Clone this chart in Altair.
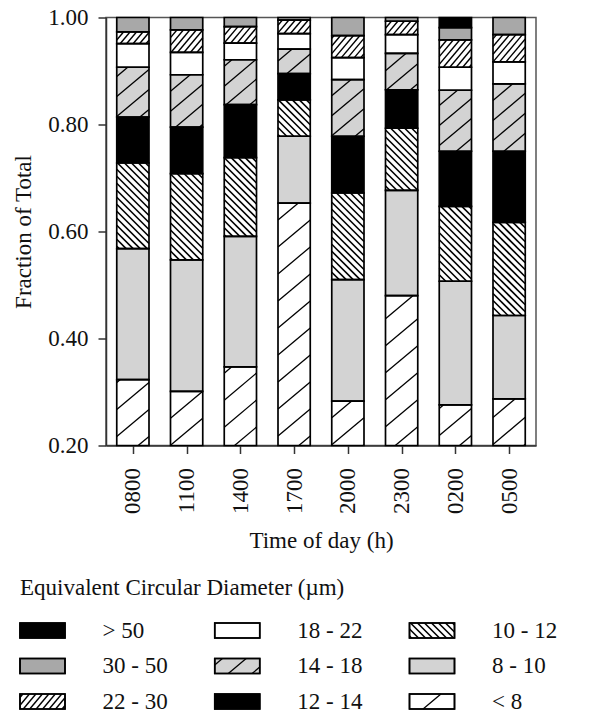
import altair as alt
import pandas as pd
import numpy as np

# ---------------- data ----------------
times = ["0800", "1100", "1400", "1700", "2000", "2300", "0200", "0500"]
classes = ["< 8", "8 - 10", "10 - 12", "12 - 14", "14 - 18", "18 - 22", "22 - 30", "30 - 50", "> 50"]

# fraction of total for each size class (bottom of stack to top), one value per time
f_lt8   = [0.323, 0.301, 0.347, 0.653, 0.283, 0.480, 0.276, 0.287]
f_8_10  = [0.245, 0.246, 0.244, 0.125, 0.227, 0.197, 0.231, 0.156]
f_10_12 = [0.160, 0.161, 0.147, 0.068, 0.162, 0.116, 0.140, 0.174]
f_12_14 = [0.086, 0.087, 0.099, 0.049, 0.106, 0.072, 0.103, 0.133]
f_14_18 = [0.093, 0.098, 0.084, 0.046, 0.106, 0.068, 0.114, 0.126]
f_18_22 = [0.044, 0.042, 0.031, 0.029, 0.041, 0.035, 0.043, 0.041]
f_22_30 = [0.022, 0.042, 0.031, 0.025, 0.041, 0.025, 0.051, 0.051]
f_30_50 = [0.027, 0.023, 0.017, 0.005, 0.034, 0.007, 0.023, 0.032]
f_gt50  = [0.000, 0.000, 0.000, 0.000, 0.000, 0.000, 0.019, 0.000]
series = [f_lt8, f_8_10, f_10_12, f_12_14, f_14_18, f_18_22, f_22_30, f_30_50, f_gt50]

# legend arrangement (column-major, as in the figure)
legend_order = ["> 50", "30 - 50", "22 - 30", "18 - 22", "14 - 18", "12 - 14", "10 - 12", "8 - 10", "< 8"]
legend_title = "Equivalent Circular Diameter (\u00b5m)"

# ---------------- styles ----------------
FONT = "Liberation Serif"
fill_range = ["white", "#d3d3d3", "white", "black", "#d3d3d3", "white", "white", "#a8a8a8", "black"]
# hatch: slope (pixel space, y up), vertical spacing px, stroke width
hatch = {"< 8": (0.84, 27.0, 1.3), "14 - 18": (0.84, 20.0, 1.3),
         "22 - 30": (1.19, 7.7, 1.4), "10 - 12": (-1.0, 7.0, 1.6)}

W, H = 430, 428
YMIN, YMAX = 0.2, 1.0
NB = len(times)
HALF = 0.30
PX = W / NB
PY = H / (YMAX - YMIN)


def hatch_lines(xl, xr, yb, yt, s, sp):
    out = []
    if s > 0:
        cmin, cmax = yb - s * xr, yt - s * xl
    else:
        cmin, cmax = yb - s * xl, yt - s * xr
    k0 = int(np.floor(cmin / sp))
    k1 = int(np.ceil(cmax / sp))
    for k in range(k0, k1 + 1):
        c = k * sp
        if s > 0:
            a = max(xl, (yb - c) / s)
            b = min(xr, (yt - c) / s)
        else:
            a = max(xl, (yt - c) / s)
            b = min(xr, (yb - c) / s)
        if b - a > 0.4:
            out.append((a, s * a + c, b, s * b + c))
    return out


# ---------------- main bars ----------------
rows, hrows = [], []
for i, t in enumerate(times):
    cum = 0.0
    for cls, ser in zip(classes, series):
        v = ser[i]
        y0, y1 = cum, cum + v
        cum = y1
        if v <= 0:
            continue
        yb = max(y0, YMIN)
        if y1 <= yb:
            continue
        xc = i + 0.5
        rows.append({"time": t, "cls": cls, "x": xc - HALF, "x2": xc + HALF, "y": yb, "y2": y1})
        if cls in hatch:
            s, sp, sw = hatch[cls]
            for (a, ya, b, yb2) in hatch_lines((xc - HALF) * PX, (xc + HALF) * PX,
                                                (yb - YMIN) * PY, (y1 - YMIN) * PY, s, sp):
                hrows.append({"x": a / PX, "y": YMIN + ya / PY, "x2": b / PX, "y2": YMIN + yb2 / PY, "sw": sw})

bars_df = pd.DataFrame(rows)
hatch_df = pd.DataFrame(hrows)

xscale = alt.Scale(domain=[0, NB], nice=False, zero=False)
yscale = alt.Scale(domain=[YMIN, YMAX], nice=False, zero=False)

label_expr = "[" + ",".join("'" + t + "'" for t in times) + "][floor(datum.value)]"

x_axis = alt.Axis(values=[i + 0.5 for i in range(NB)], labelExpr=label_expr, title="Time of day (h)",
                  labelAngle=270, tickSize=8, labelPadding=14, titlePadding=16, labelOverlap=False,
                  labelFlush=False)
y_axis = alt.Axis(values=[0.2, 0.4, 0.6, 0.8, 1.0], format=".2f", title="Fraction of Total",
                  tickSize=8, labelPadding=10, titlePadding=12, labelOverlap=False)

fill_enc = alt.Fill("cls:N", scale=alt.Scale(domain=classes, range=fill_range), legend=None)

bars = alt.Chart(bars_df).mark_rect(strokeWidth=0).encode(
    x=alt.X("x:Q", scale=xscale, axis=x_axis),
    x2="x2:Q",
    y=alt.Y("y:Q", scale=yscale, axis=y_axis),
    y2="y2:Q",
    fill=fill_enc,
)

hatches = alt.Chart(hatch_df).mark_rule(color="black", strokeCap="butt").encode(
    x=alt.X("x:Q", scale=xscale),
    x2="x2:Q",
    y=alt.Y("y:Q", scale=yscale),
    y2="y2:Q",
    strokeWidth=alt.StrokeWidth("sw:Q", scale=None),
)

outline = alt.Chart(bars_df).mark_rect(fillOpacity=0, stroke="black", strokeWidth=1.7).encode(
    x=alt.X("x:Q", scale=xscale),
    x2="x2:Q",
    y=alt.Y("y:Q", scale=yscale),
    y2="y2:Q",
)

main = alt.layer(bars, hatches, outline).properties(
    width=W, height=H,
    view=alt.ViewBackground(stroke="#555555", strokeWidth=1.5),
)

# ---------------- legend ----------------
LX_RANGE = [-63.5, 326.0]
LY_RANGE = [70.0, 141.0]
LX = (LX_RANGE[1] - LX_RANGE[0]) / 2
LY = (LY_RANGE[1] - LY_RANGE[0]) / 2
BW, BH = 45.0, 15.0

lrows, lhrows = [], []
for k, cls in enumerate(legend_order):
    col, row = k // 3, k % 3
    lrows.append({"cls": cls, "col": col, "row": row,
                  "x": col - (BW / 2) / LX, "x2": col + (BW / 2) / LX,
                  "y": row - (BH / 2) / LY, "y2": row + (BH / 2) / LY})
    if cls in hatch:
        s, sp, sw = hatch[cls]
        for (a, ya, b, yb2) in hatch_lines(-BW / 2, BW / 2, -BH / 2, BH / 2, s, sp):
            lhrows.append({"x": col + a / LX, "y": row - ya / LY, "x2": col + b / LX, "y2": row - yb2 / LY, "sw": sw})

leg_df = pd.DataFrame(lrows)
leg_h_df = pd.DataFrame(lhrows)
leg_title_df = pd.DataFrame([{"t": legend_title, "col": 0, "row": 0}])

lxs = alt.Scale(domain=[0, 2], range=LX_RANGE, nice=False, zero=False)
lys = alt.Scale(domain=[0, 2], range=LY_RANGE, nice=False, zero=False)

leg_boxes = alt.Chart(leg_df).mark_rect(stroke="black", strokeWidth=1.6).encode(
    x=alt.X("x:Q", scale=lxs, axis=None), x2="x2:Q",
    y=alt.Y("y:Q", scale=lys, axis=None), y2="y2:Q",
    fill=fill_enc,
)
leg_hatch = alt.Chart(leg_h_df).mark_rule(color="black", strokeCap="butt").encode(
    x=alt.X("x:Q", scale=lxs, axis=None), x2="x2:Q",
    y=alt.Y("y:Q", scale=lys, axis=None), y2="y2:Q",
    strokeWidth=alt.StrokeWidth("sw:Q", scale=None),
)
leg_outline = alt.Chart(leg_df).mark_rect(fillOpacity=0, stroke="black", strokeWidth=1.6).encode(
    x=alt.X("x:Q", scale=lxs, axis=None), x2="x2:Q",
    y=alt.Y("y:Q", scale=lys, axis=None), y2="y2:Q",
)
leg_text = alt.Chart(leg_df).mark_text(align="left", baseline="middle", dx=60, font=FONT,
                                       fontSize=23, color="#111111").encode(
    x=alt.X("col:Q", scale=lxs, axis=None),
    y=alt.Y("row:Q", scale=lys, axis=None),
    text="cls:N",
)
leg_title = alt.Chart(leg_title_df).mark_text(align="left", baseline="middle", dx=-BW / 2, dy=-43,
                                              font=FONT, fontSize=23, color="#111111").encode(
    x=alt.X("col:Q", scale=lxs, axis=None),
    y=alt.Y("row:Q", scale=lys, axis=None),
    text="t:N",
)

legend = alt.layer(leg_boxes, leg_hatch, leg_outline, leg_text, leg_title).properties(
    width=W, height=150,
    view=alt.ViewBackground(strokeOpacity=0),
)

chart = alt.vconcat(main, legend, spacing=115, bounds="flush", background="white",
                    padding={"left": 12, "top": 5.5, "right": 10, "bottom": 3}).configure_axis(
    labelFont=FONT, titleFont=FONT, labelFontSize=23, titleFontSize=23,
    titleFontWeight="normal", labelColor="#111111", titleColor="#111111",
    domainColor="#333333", tickColor="#333333", domainWidth=1.5, tickWidth=1.5, grid=False,
)

chart.save("out.html", embed_options={"renderer": "svg", "actions": False})
